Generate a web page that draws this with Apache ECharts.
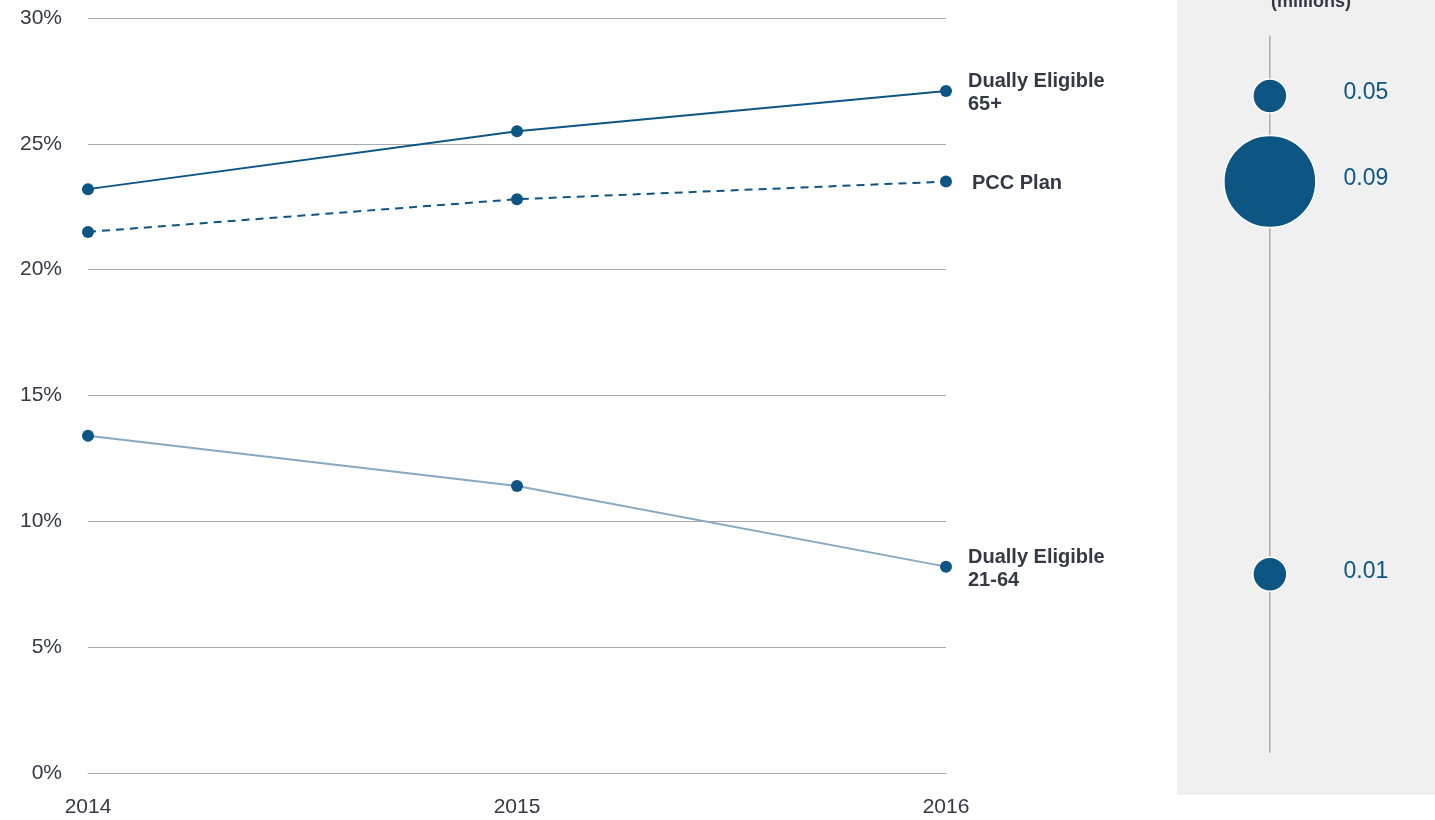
<!DOCTYPE html>
<html>
<head>
<meta charset="utf-8">
<script src="https://cdn.jsdelivr.net/npm/echarts@6/dist/echarts.min.js"></script>
<style>
    html, body {
        margin: 0;
        padding: 0;
        background: #fff;
    }
    #myChart {
        width: 1435px;
        height: 820px;
    }
</style>
</head>
<body>
<div id="myChart"></div>
<script>
    // 数据
    const years = ['2014', '2015', '2016'];
    const yTicks = [0, 5, 10, 15, 20, 25, 30];
    const dual65 = [23.2, 25.5, 27.1];
    const pccPlan = [21.5, 22.8, 23.5];
    const dual2164 = [13.4, 11.4, 8.2];
    const bubbleNames = ['Dually Eligible 65+', 'PCC Plan', 'Dually Eligible 21-64'];
    const bubbleValues = [0.05, 0.09, 0.01];
    const bubbleRowPos = [26.9, 23.5, 7.9];
    const bubbleTitle = '(millions)';

    const dark = '#0d5583';
    const light = '#88a9c0';
    const textColor = '#333a45';
    const font = 'Liberation Sans, Arial, sans-serif';
    // 竖线的上下端 (y 轴单位)
    const stemTop = 29.3;
    const stemBottom = 0.8;
    const stemX = 36;

    let myChart = echarts.init(document.getElementById('myChart'));
    let maxV = Math.max(...bubbleValues);

    function lineSeries(name, data, lineColor, dash, labelDist) {
        return {
            name: name,
            type: 'line',
            xAxisIndex: 0,
            yAxisIndex: 0,
            data: data,
            symbol: 'circle',
            symbolSize: 12,
            itemStyle: { color: dark },
            lineStyle: { color: lineColor, width: 2, type: dash },
            emphasis: { disabled: true },
            endLabel: {
                show: true,
                formatter: name,
                distance: labelDist,
                color: textColor,
                fontSize: 20,
                fontWeight: 'bold',
                lineHeight: 23,
                fontFamily: font,
                offset: [0, 2]
            },
            z: 3
        };
    }

    let option = {
        animation: false,
        title: {
            text: bubbleTitle,
            left: 1306,
            top: -12,
            textAlign: 'center',
            textStyle: { fontSize: 18, fontWeight: 'bold', color: textColor, fontFamily: font }
        },
        graphic: [{
            type: 'rect',
            shape: { x: 1177, y: 0, width: 258, height: 795 },
            style: { fill: '#f0f0f0' },
            z: -10
        }],
        grid: [
            { left: 88, right: 489, top: 18, bottom: 47 },
            { left: 1177, right: 0, top: 18, bottom: 47 }
        ],
        xAxis: [{
            type: 'category',
            gridIndex: 0,
            data: years,
            boundaryGap: false,
            axisLine: { show: true, lineStyle: { color: '#aaa', width: 1 } },
            axisTick: { show: false },
            axisLabel: { color: textColor, fontSize: 21, margin: 24, fontFamily: font }
        }, {
            type: 'value',
            gridIndex: 1,
            min: 0,
            max: 100,
            show: false
        }],
        yAxis: [{
            type: 'value',
            gridIndex: 0,
            min: yTicks[0],
            max: yTicks[yTicks.length - 1],
            interval: 5,
            axisLine: { show: false },
            axisTick: { show: false },
            splitLine: { lineStyle: { color: '#aaa', width: 1 } },
            axisLabel: { color: textColor, fontSize: 21, margin: 26, formatter: '{value}%', fontFamily: font }
        }, {
            type: 'value',
            gridIndex: 1,
            min: yTicks[0],
            max: yTicks[yTicks.length - 1],
            show: false
        }],
        series: [
            lineSeries('Dually Eligible\n65+', dual65, dark, 'solid', 22),
            lineSeries('PCC Plan', pccPlan, dark, [8, 6], 26),
            lineSeries('Dually Eligible\n21-64', dual2164, light, 'solid', 22),
            {
                name: 'stem',
                type: 'line',
                xAxisIndex: 1,
                yAxisIndex: 1,
                data: [[stemX, stemTop], [stemX, stemBottom]],
                symbol: 'none',
                lineStyle: { color: '#888', width: 1 },
                silent: true,
                z: 1
            },
            {
                name: 'bubbles',
                type: 'scatter',
                xAxisIndex: 1,
                yAxisIndex: 1,
                data: bubbleValues.map((v, i) => ({ name: bubbleNames[i], value: [stemX, bubbleRowPos[i], v] })),
                symbolSize: function (val) {
                    return Math.max(34, 92 * Math.pow(val[2] / maxV, 2));
                },
                itemStyle: { color: dark, borderColor: '#fff', borderWidth: 1.5, opacity: 1 },
                emphasis: { disabled: true },
                label: {
                    show: true,
                    position: 'inside',
                    offset: [96, -3],
                    formatter: p => p.value[2].toFixed(2),
                    color: dark,
                    fontSize: 23,
                    fontFamily: font
                },
                z: 4
            }
        ]
    };
    myChart.setOption(option);
</script>
</body>
</html>
